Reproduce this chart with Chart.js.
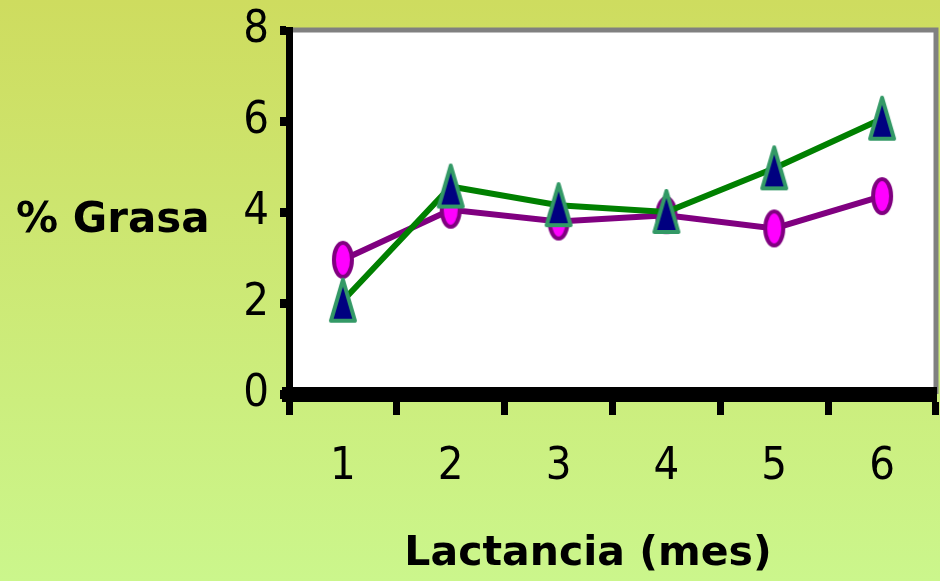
<!DOCTYPE html>
<html>
<head>
<meta charset="utf-8">
<script src="https://cdn.jsdelivr.net/npm/chart.js@4.4.1/dist/chart.umd.min.js"></script>
<style>
  html, body { margin: 0; padding: 0; }
  body { width: 940px; height: 581px; overflow: hidden; background: linear-gradient(to bottom, #cedc5f, #cbf68c); }
  #wrap { width: 940px; height: 581px; overflow: hidden; }
</style>
</head>
<body>
<div id="wrap"><canvas id="chart" width="956" height="581"></canvas></div>
<script>
// data
const meses = ['1', '2', '3', '4', '5', '6'];
const serieTriangulo = [2.05, 4.56, 4.15, 4.0, 4.96, 6.05];
const serieCirculo = [2.95, 4.05, 3.79, 3.93, 3.64, 4.35];
const yTicks = [0, 2, 4, 6, 8];
const yTitle = '% Grasa';
const xTitle = 'Lactancia (mes)';

// custom markers (tall triangle / tall ellipse)
function makeTriangle() {
    const c = document.createElement('canvas');
    c.width = 30; c.height = 48;
    const g = c.getContext('2d');
    g.beginPath();
    g.moveTo(15, 3);
    g.lineTo(27, 44);
    g.lineTo(3, 44);
    g.closePath();
    g.fillStyle = '#000080';
    g.fill();
    g.lineWidth = 4;
    g.lineJoin = 'round';
    g.strokeStyle = '#339966';
    g.stroke();
    return c;
}
function makeEllipse() {
    const c = document.createElement('canvas');
    c.width = 26; c.height = 42;
    const g = c.getContext('2d');
    g.beginPath();
    g.ellipse(13, 21, 9, 17, 0, 0, Math.PI * 2);
    g.fillStyle = '#ff00ff';
    g.fill();
    g.lineWidth = 4;
    g.strokeStyle = '#800080';
    g.stroke();
    return c;
}

const plotBox = {
    id: 'plotBox',
    beforeDraw(chart) {
        const a = chart.chartArea;
        const ctx = chart.ctx;
        ctx.save();
        ctx.fillStyle = '#ffffff';
        ctx.fillRect(a.left, a.top, a.right - a.left, a.bottom - a.top);
        ctx.strokeStyle = '#808080';
        ctx.lineWidth = 5;
        ctx.beginPath();
        ctx.moveTo(a.left, a.top);
        ctx.lineTo(a.right, a.top);
        ctx.lineTo(a.right, a.bottom);
        ctx.stroke();
        ctx.restore();
    },
    afterDraw(chart) {
        const ctx = chart.ctx;
        ctx.save();
        ctx.fillStyle = '#000';
        ctx.font = 'bold 42px "DejaVu Sans", Verdana, sans-serif';
        ctx.textBaseline = 'middle';
        ctx.textAlign = 'left';
        ctx.fillText(yTitle, 16, 221);
        ctx.font = 'bold 41px "DejaVu Sans", Verdana, sans-serif';
        ctx.textAlign = 'center';
        ctx.fillText(xTitle, 588, 554);
        ctx.restore();
    }
};

const tickFont = { family: '"Liberation Sans Narrow", "DejaVu Sans Condensed", sans-serif', size: 45 };

new Chart(document.getElementById('chart').getContext('2d'), {
    type: 'line',
    data: {
        labels: meses,
        datasets: [
            {
                label: 'A',
                data: serieTriangulo,
                borderColor: '#008000',
                borderWidth: 6,
                pointStyle: makeTriangle(),
                pointRadius: 14,
                pointHoverRadius: 14
            },
            {
                label: 'B',
                data: serieCirculo,
                borderColor: '#800080',
                borderWidth: 6,
                pointStyle: makeEllipse(),
                pointRadius: 14,
                pointHoverRadius: 14
            }
        ]
    },
    options: {
        responsive: false,
        animation: false,
        layout: { padding: { top: 30, right: 4, left: 0, bottom: 0 } },
        plugins: { legend: { display: false }, tooltip: { enabled: false } },
        scales: {
            x: {
                offset: true,
                grid: { offset: true, drawOnChartArea: false, tickLength: 21, tickWidth: 7, tickColor: '#000' },
                border: { color: '#000', width: 15 },
                ticks: { color: '#000', font: tickFont, padding: 25, maxRotation: 0 },
                afterFit(s) { s.height = 187; s.paddingLeft = 0; s.paddingRight = 0; }
            },
            y: {
                min: 0,
                max: 8,
                afterBuildTicks(s) { s.ticks = yTicks.map(v => ({ value: v })); },
                grid: { drawOnChartArea: false, tickLength: 9, tickWidth: 9, tickColor: '#000' },
                border: { color: '#000', width: 7 },
                ticks: { color: '#000', font: tickFont, padding: 11 },
                afterFit(s) { s.width = 289; s.paddingTop = 0; s.paddingBottom = 0; }
            }
        }
    },
    plugins: [plotBox]
});
</script>
</body>
</html>
